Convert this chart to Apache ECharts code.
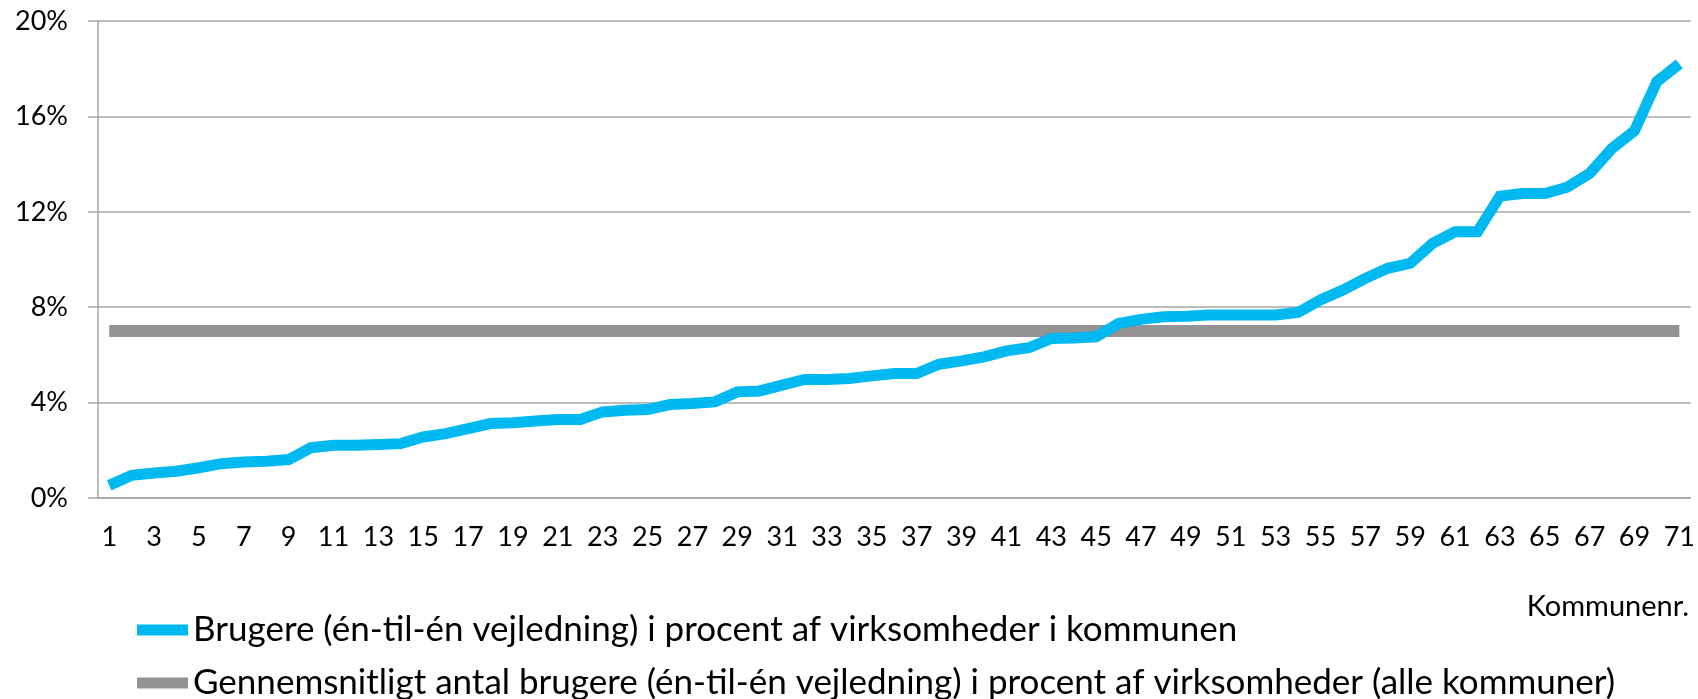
<!DOCTYPE html>
<html>
<head>
<meta charset="utf-8">
<script src="https://cdn.jsdelivr.net/npm/echarts@6/dist/echarts.min.js"></script>
<style>
  html, body { margin: 0; padding: 0; background: #fff; }
  #main { width: 1698px; height: 699px; }
</style>
</head>
<body>
<div id="main"></div>
<script>
// kommune numbers 1..71
var kommuner = [];
for (var k = 1; k <= 71; k++) kommuner.push(String(k));

// brugere i procent af virksomheder, sorted
var brugere = [
    0.53, 0.95, 1.05, 1.12, 1.27, 1.44, 1.51, 1.54, 1.61, 2.11,
    2.21, 2.21, 2.24, 2.28, 2.56, 2.70, 2.91, 3.12, 3.16, 3.23,
    3.29, 3.29, 3.61, 3.68, 3.71, 3.92, 3.96, 4.03, 4.45, 4.49,
    4.73, 4.97, 4.97, 5.01, 5.12, 5.22, 5.22, 5.61, 5.75, 5.92,
    6.17, 6.30, 6.69, 6.71, 6.76, 7.32, 7.49, 7.60, 7.62, 7.67,
    7.67, 7.67, 7.67, 7.78, 8.30, 8.72, 9.21, 9.63, 9.84, 10.68,
    11.16, 11.16, 12.66, 12.77, 12.77, 13.03, 13.61, 14.66, 15.40, 17.46,
    18.20
];

// gennemsnit for alle kommuner
var gennemsnit = 7.0;
var gennemsnitData = kommuner.map(function () { return gennemsnit; });

var yTicks = [0, 4, 8, 12, 16, 20];

var navnBrugere = 'Brugere (én-til-én vejledning) i procent af virksomheder i kommunen';
var navnGns = 'Gennemsnitligt antal brugere (én-til-én vejledning) i procent af virksomheder (alle kommuner)';

var legendText = {fontFamily: 'Lato', fontSize: 35, lineHeight: 40, color: '#000'};

var myChart = echarts.init(document.getElementById('main'));

var option = {
    animation: false,
    textStyle: {fontFamily: 'Lato'},
    grid: {left: 98, right: 6, top: 21, bottom: 201},
    title: {
        text: 'Kommunenr.',
        right: 9,
        top: 592,
        padding: 0,
        textStyle: {fontFamily: 'Lato', fontSize: 29, fontWeight: 'normal', color: '#000'}
    },
    legend: [
        {
            left: 137,
            top: 610,
            padding: 0,
            itemWidth: 51,
            itemHeight: 11,
            icon: 'rect',
            textStyle: legendText,
            data: [navnBrugere]
        },
        {
            left: 137,
            top: 663,
            padding: 0,
            itemWidth: 51,
            itemHeight: 11,
            icon: 'rect',
            textStyle: legendText,
            data: [navnGns]
        }
    ],
    xAxis: {
        type: 'category',
        data: kommuner,
        boundaryGap: true,
        axisLine: {lineStyle: {color: '#a6a6a6', width: 1.5}},
        axisTick: {interval: 0, length: 10, lineStyle: {color: '#a6a6a6', width: 1.5}},
        axisLabel: {interval: 1, color: '#000', fontSize: 27, margin: 26, fontFamily: 'Lato'}
    },
    yAxis: {
        type: 'value',
        min: yTicks[0],
        max: yTicks[yTicks.length - 1],
        interval: 4,
        axisLine: {show: true, lineStyle: {color: '#a6a6a6', width: 1.5}},
        axisTick: {show: true, length: 10, lineStyle: {color: '#a6a6a6', width: 1.5}},
        splitLine: {lineStyle: {color: '#a6a6a6', width: 1.5}},
        axisLabel: {formatter: '{value}%', color: '#000', fontSize: 27, margin: 30, fontFamily: 'Lato'}
    },
    series: [
        {
            name: navnBrugere,
            type: 'line',
            data: brugere,
            symbol: 'none',
            z: 3,
            itemStyle: {color: '#00b9f1'},
            lineStyle: {color: '#00b9f1', width: 11, cap: 'butt', join: 'miter'}
        },
        {
            name: navnGns,
            type: 'line',
            data: gennemsnitData,
            symbol: 'none',
            z: 2,
            itemStyle: {color: '#939393'},
            lineStyle: {color: '#939393', width: 12, cap: 'butt'}
        }
    ]
};

myChart.setOption(option);
</script>
</body>
</html>
